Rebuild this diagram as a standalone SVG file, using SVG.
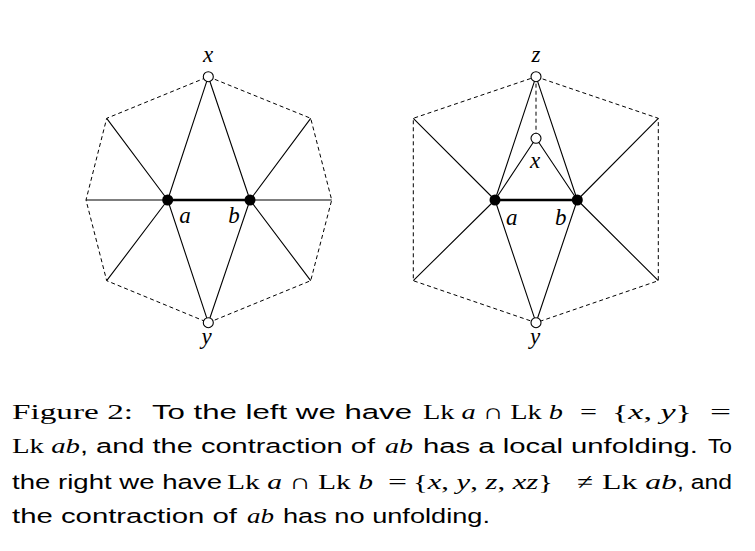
<svg xmlns="http://www.w3.org/2000/svg" width="755" height="551" viewBox="0 0 755 551">
<style>
.e{stroke:#000;stroke-width:1.1;fill:none}
.t{stroke:#000;stroke-width:2.6;fill:none}
.d{stroke:#000;stroke-width:1;fill:none;stroke-dasharray:4 3}
.o{fill:#fff;stroke:#000;stroke-width:1.1}
.f{fill:#000}
.lbl{font-family:"Liberation Serif",serif;font-style:italic;font-size:23px;text-anchor:middle}
.sans{font-family:"Liberation Sans",Arial,sans-serif;font-size:20.5px}
.ser{font-family:"Liberation Serif",serif;font-size:21.5px}
.i{font-style:italic}
</style>
<rect width="755" height="551" fill="#fff"/>
<g id="connectors">
  <polygon class="d" points="208.3,76.7 310.7,118.3 331.7,200 310.7,280.7 208.3,322.7 106.7,280.7 86,200 106.7,118.3"/>
  <path class="e" d="M167.7,200L208.3,76.7M167.7,200L208.3,322.7M250,200L208.3,76.7M250,200L208.3,322.7M167.7,200L106.7,118.3M167.7,200L86,200M167.7,200L106.7,280.7M250,200L310.7,118.3M250,200L331.7,200M250,200L310.7,280.7"/>
  <path class="t" d="M167.7,200L250,200"/>
  <polygon class="d" points="536,76.7 658.3,118.3 658.3,280.7 536,322.7 413.3,280.7 413.3,118.3"/>
  <path class="d" d="M536,76.7L536,138.3"/>
  <path class="e" d="M495,200L536,76.7M577.3,200L536,76.7M495,200L536,138.3M577.3,200L536,138.3M495,200L536,322.7M577.3,200L536,322.7M495,200L413.3,118.3M495,200L413.3,280.7M577.3,200L658.3,118.3M577.3,200L658.3,280.7"/>
  <path class="t" d="M495,200L577.3,200"/>
</g>
<g id="L-x"><circle class="o" cx="208.3" cy="76.7" r="5"/><text class="lbl" x="208" y="61.5">x</text></g>
<g id="L-y"><circle class="o" cx="208.3" cy="322.7" r="5"/><text class="lbl" x="206.5" y="344">y</text></g>
<g id="L-a"><circle class="f" cx="167.7" cy="200" r="5.5"/><text class="lbl" x="185" y="222.7">a</text></g>
<g id="L-b"><circle class="f" cx="250" cy="200" r="5.5"/><text class="lbl" x="234" y="222.7">b</text></g>
<g id="R-z"><circle class="o" cx="536" cy="76.7" r="5"/><text class="lbl" x="536" y="61.7">z</text></g>
<g id="R-x"><circle class="o" cx="536" cy="138.3" r="5"/><text class="lbl" x="535" y="168">x</text></g>
<g id="R-y"><circle class="o" cx="536" cy="322.7" r="5"/><text class="lbl" x="535" y="344">y</text></g>
<g id="R-a"><circle class="f" cx="495" cy="200" r="5.5"/><text class="lbl" x="511.7" y="225">a</text></g>
<g id="R-b"><circle class="f" cx="577.3" cy="200" r="5.5"/><text class="lbl" x="560.7" y="225">b</text></g>
<g id="caption">
  <text class="ser" x="12" y="419" textLength="121" lengthAdjust="spacingAndGlyphs">Figure 2:</text>
  <text class="sans" x="152" y="419" textLength="260" lengthAdjust="spacingAndGlyphs">To the left we have</text>
  <text class="ser" x="423" y="419" textLength="140" lengthAdjust="spacingAndGlyphs">Lk <tspan class="i">a</tspan> ∩ Lk <tspan class="i">b</tspan></text>
  <text class="ser" x="580" y="419" textLength="17" lengthAdjust="spacingAndGlyphs">=</text>
  <text class="ser" x="612" y="419" textLength="80" lengthAdjust="spacingAndGlyphs">{<tspan class="i">x</tspan>, <tspan class="i">y</tspan>}</text>
  <text class="ser" x="710" y="419" textLength="21" lengthAdjust="spacingAndGlyphs">=</text>

  <text class="ser" x="12" y="453" textLength="68" lengthAdjust="spacingAndGlyphs">Lk <tspan class="i">ab</tspan></text>
  <text class="sans" x="80" y="453" textLength="295" lengthAdjust="spacingAndGlyphs">, and the contraction of</text>
  <text class="ser i" x="385" y="453" textLength="28" lengthAdjust="spacingAndGlyphs">ab</text>
  <text class="sans" x="423" y="453" textLength="275" lengthAdjust="spacingAndGlyphs">has a local unfolding.</text>
  <text class="sans" x="708" y="453" textLength="24" lengthAdjust="spacingAndGlyphs">To</text>

  <text class="sans" x="12" y="489" textLength="210" lengthAdjust="spacingAndGlyphs">the right we have</text>
  <text class="ser" x="227" y="489" textLength="146" lengthAdjust="spacingAndGlyphs">Lk <tspan class="i">a</tspan> ∩ Lk <tspan class="i">b</tspan></text>
  <text class="ser" x="388" y="489" textLength="19" lengthAdjust="spacingAndGlyphs">=</text>
  <text class="ser" x="413" y="489" textLength="140" lengthAdjust="spacingAndGlyphs">{<tspan class="i">x</tspan>, <tspan class="i">y</tspan>, <tspan class="i">z</tspan>, <tspan class="i">xz</tspan>}</text>
  <text class="ser" x="577" y="489" textLength="16" lengthAdjust="spacingAndGlyphs">≠</text>
  <text class="ser" x="602" y="489" textLength="75" lengthAdjust="spacingAndGlyphs">Lk <tspan class="i">ab</tspan></text>
  <text class="sans" x="677" y="489" textLength="55" lengthAdjust="spacingAndGlyphs">, and</text>

  <text class="sans" x="12" y="523" textLength="225" lengthAdjust="spacingAndGlyphs">the contraction of</text>
  <text class="ser i" x="247" y="523" textLength="27" lengthAdjust="spacingAndGlyphs">ab</text>
  <text class="sans" x="283" y="523" textLength="207" lengthAdjust="spacingAndGlyphs">has no unfolding.</text>
</g>
</svg>
